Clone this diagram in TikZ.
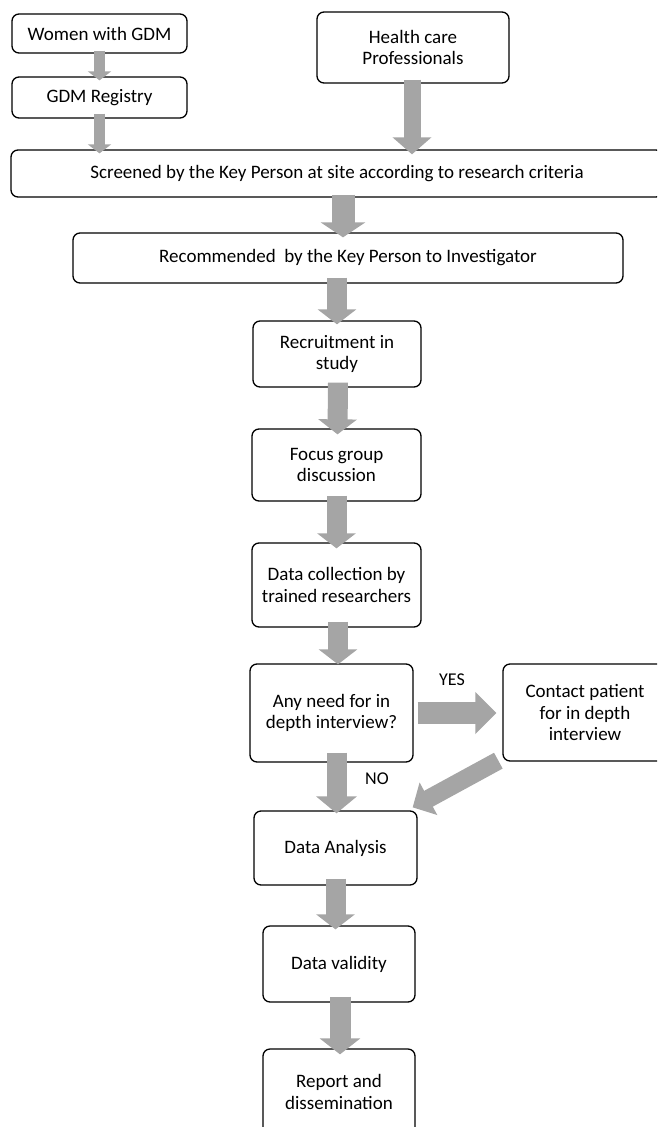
\documentclass[tikz,border=0pt]{standalone}
\usepackage{fontspec}
\setmainfont{Carlito}
\usetikzlibrary{arrows.meta}
\definecolor{arrowgray}{HTML}{A5A5A5}
\begin{document}
\begin{tikzpicture}[x=1pt,y=-1pt,
  box/.style={draw=black, line width=1.3pt, rounded corners=7pt, align=center,
    inner sep=0pt, font=\fontsize{19}{21.5}\selectfont, text=black},
  bigarrow/.style={draw=arrowgray, line width=20pt, -{Triangle[width=38pt,length=15pt]}, arrowgray},
  smallarrow/.style={draw=arrowgray, line width=11pt, -{Triangle[width=23pt,length=9pt]}, arrowgray},
  lbl/.style={font=\fontsize{18}{20}\selectfont, inner sep=0pt}]
\useasboundingbox (0,0) rectangle (657,1127);
\clip (0,0) rectangle (657,1127);
% boxes
\node[box, minimum width=175pt, minimum height=39pt] (wom) at (99.5,33.5) {Women with GDM};
\node[box, minimum width=175pt, minimum height=41pt] (reg) at (99.5,97.5) {GDM Registry};
\node[box, minimum width=192pt, minimum height=71pt] (hcp) at (413,47.5) {Health care\\Professionals};
\node[box, minimum width=652pt, minimum height=47pt] (scr) at (337,173.5) {Screened by the Key Person at site according to research criteria};
\node[box, minimum width=550pt, minimum height=50pt] (rec) at (348,258) {Recommended\ \ by the Key Person to Investigator};
\node[box, minimum width=168pt, minimum height=66pt] (rcr) at (337,354) {Recruitment in\\study};
\node[box, minimum width=169pt, minimum height=72pt] (fgd) at (336.5,465) {Focus group\\discussion};
\node[box, minimum width=169pt, minimum height=84pt] (dcl) at (336.5,585) {Data collection by\\trained researchers};
\node[box, minimum width=163pt, minimum height=98pt] (any) at (331.5,713) {Any need for in\\depth interview?};
\node[box, minimum width=164pt, minimum height=97pt] (con) at (585,712.5) {Contact patient\\for in depth\\interview};
\node[box, minimum width=163pt, minimum height=74pt] (dan) at (335.5,848) {Data Analysis};
\node[box, minimum width=152pt, minimum height=76pt] (dva) at (339,964) {Data validity};
\node[box, minimum width=152pt, minimum height=86pt] (rep) at (339,1092) {Report and\\dissemination};
% labels
\node[lbl] (yes) at (452,680) {YES};
\node[lbl] (no) at (377,779) {NO};
% arrows
\draw[smallarrow] ([yshift=3pt]wom.south) -- ([yshift=-4pt]reg.north);
\draw[smallarrow] ([yshift=5pt]reg.south) -- ([yshift=-4pt]reg.south |- scr.north);
\draw[bigarrow, line width=17pt, -{Triangle[width=38pt,length=17pt]}] ([xshift=-1pt,yshift=4pt]hcp.south) -- ([xshift=-1pt,yshift=-5pt]hcp.south |- scr.north);
\draw[bigarrow, line width=23pt, -{Triangle[width=44pt,length=15pt]}] ([yshift=3pt]scr.south -| 343,0) -- ([yshift=-5pt]rec.north -| 343,0);
\draw[bigarrow] ([yshift=6pt]rec.south -| rcr.north) -- ([yshift=-4pt]rcr.north);
\draw[bigarrow] ([xshift=1pt,yshift=5pt]rcr.south) -- ([xshift=1pt,yshift=-6pt]fgd.north);
\draw[bigarrow] ([yshift=6pt]fgd.south) -- ([yshift=-6pt]dcl.north);
\draw[bigarrow] ([xshift=1.5pt,yshift=6pt]dcl.south) -- ([xshift=1.5pt,yshift=-1pt]dcl.south |- any.north);
\draw[bigarrow, -{Triangle[width=40pt,length=17pt]}] ([xshift=5pt,yshift=10pt]any.south) -- ([xshift=5pt,yshift=-3pt]any.south |- dan.north);
\draw[bigarrow, line width=22pt, -{Triangle[width=41pt,length=21pt]}] ([xshift=4pt]any.east) -- ([xshift=-6pt]any.east -| con.west);
\draw[bigarrow, line width=18pt, -{Triangle[width=36pt,length=18pt]}] ([shift={(-4,-1)}]con.south west) -- ([shift={(-5,-3)}]dan.north east);
\draw[bigarrow] ([yshift=7pt]dan.south) -- ([yshift=-4pt]dan.south |- dva.north);
\draw[bigarrow, line width=21pt, -{Triangle[width=40pt,length=16pt]}] ([xshift=1pt,yshift=6pt]dva.south) -- ([xshift=1pt,yshift=-6pt]rep.north);
\end{tikzpicture}
\end{document}
